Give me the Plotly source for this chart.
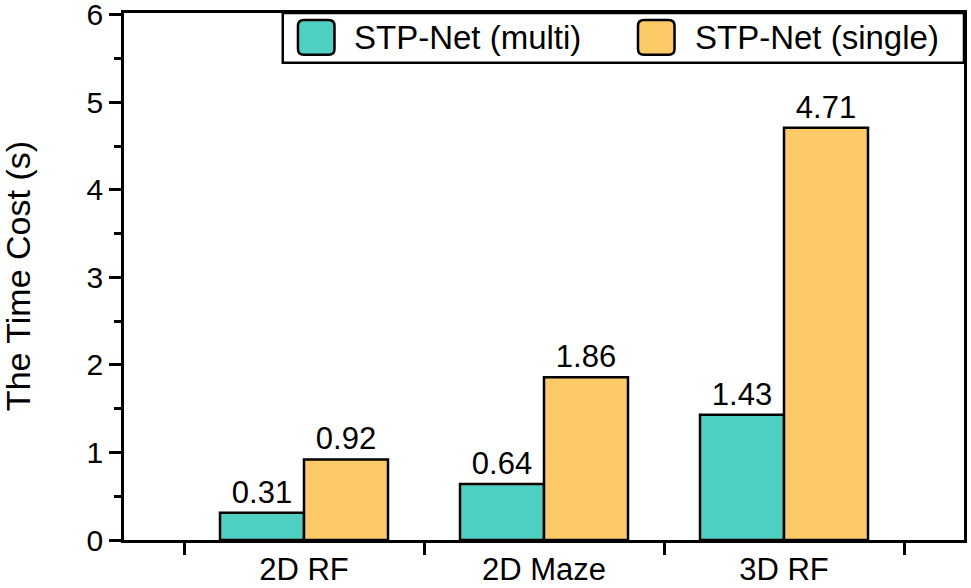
import plotly.graph_objects as go

# data
categories = ["2D RF", "2D Maze", "3D RF"]
multi_vals = [0.31, 0.64, 1.43]
single_vals = [0.92, 1.86, 4.71]
series_names = ["STP-Net (multi)", "STP-Net (single)"]
series_colors = ["#50CFC3", "#FCCB67"]

FONT = "Liberation Sans, Arial, Helvetica, sans-serif"

fig = go.Figure()
for name, vals, col in zip(series_names, [multi_vals, single_vals], series_colors):
    fig.add_trace(go.Bar(
        x=categories, y=vals, name=name,
        marker=dict(color=col, line=dict(color="black", width=2.5)),
        text=vals, texttemplate="%{y:.2f}", textposition="outside",
        textfont=dict(size=31, color="black", family=FONT),
        cliponaxis=False, showlegend=False,
    ))


def round_rect(x0, y0, x1, y1, rx, ry):
    # rounded rectangle path in paper coords
    return (f"M {x0+rx},{y0} L {x1-rx},{y0} Q {x1},{y0} {x1},{y0+ry} "
            f"L {x1},{y1-ry} Q {x1},{y1} {x1-rx},{y1} L {x0+rx},{y1} "
            f"Q {x0},{y1} {x0},{y1-ry} L {x0},{y0+ry} Q {x0},{y0} {x0+rx},{y0} Z")


# custom legend box (bigger swatches than plotly's legend allows)
fig.add_shape(type="rect", xref="paper", yref="paper", x0=0.189, x1=1.0, y0=0.9055, y1=1.0,
              line=dict(color="black", width=2.5), fillcolor="white", layer="above")
swatch_x = [0.2071, 0.6119]
text_x = [0.2714, 0.6774]
for sx, tx, name, col in zip(swatch_x, text_x, series_names, series_colors):
    fig.add_shape(type="path", xref="paper", yref="paper",
                  path=round_rect(sx, 0.9206, sx + 0.0435, 0.9868, 0.007, 0.011),
                  fillcolor=col, line=dict(color="black", width=2.5), layer="above")
    fig.add_annotation(x=tx, y=0.9537, xref="paper", yref="paper", text=name,
                       showarrow=False, xanchor="left", yanchor="middle",
                       font=dict(size=33, color="black", family=FONT))

# y title as annotation so its spot is fixed
fig.add_annotation(x=-0.126, y=0.501, xref="paper", yref="paper", text="The Time Cost (s)",
                   textangle=-90, showarrow=False, xanchor="center", yanchor="middle",
                   font=dict(size=34, color="black", family=FONT))

fig.update_layout(
    width=971, height=588,
    margin=dict(l=124, r=7, t=13, b=48),
    plot_bgcolor="white", paper_bgcolor="white",
    barmode="group", bargap=0.3, bargroupgap=0,
    font=dict(family=FONT, color="black"),
    xaxis=dict(range=[-0.75, 2.75], tickson="boundaries", ticks="outside",
               ticklen=12, tickwidth=2.5, tickcolor="black", automargin=False,
               showline=True, linewidth=2.5, linecolor="black", mirror=True,
               showgrid=False, tickfont=dict(size=31)),
    yaxis=dict(range=[0, 6.02], dtick=1, ticks="outside", ticklen=12, tickwidth=2.5,
               tickcolor="black", showline=True, linewidth=2.5, linecolor="black",
               mirror=True, showgrid=False, zeroline=False, tickfont=dict(size=30),
               automargin=False, ticklabeloverflow="allow",
               minor=dict(dtick=0.5, ticks="outside", ticklen=7, tickwidth=2.5, tickcolor="black")),
)

# drop the page's default body margin so the figure sits at 0,0
fig.write_html("out.html", config={"displayModeBar": False},
               post_script="document.body.style.margin='0';")
